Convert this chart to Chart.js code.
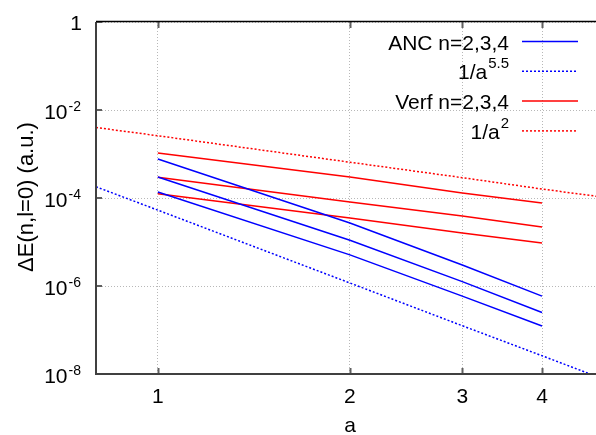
<!DOCTYPE html>
<html>
<head>
<meta charset="utf-8">
<script src="https://cdn.jsdelivr.net/npm/chart.js@4/dist/chart.umd.min.js"></script>
<style>
  body { margin: 0; background: #fff; }
</style>
</head>
<body>
<canvas id="energyChart" width="596" height="435"></canvas>
<script>
// values (log-log)
const aVals = [1, 2, 3, 4];
const anc2 = [7.7e-4, 2.7e-5, 3.0e-6, 5.9e-7];
const anc3 = [3.0e-4, 1.1e-5, 1.26e-6, 2.5e-7];
const anc4 = [1.37e-4, 5.1e-6, 5.9e-7, 1.23e-7];
const verf2 = [1.05e-3, 3.0e-4, 1.3e-4, 7.7e-5];
const verf3 = [2.97e-4, 8.1e-5, 3.9e-5, 2.2e-5];
const verf4 = [1.25e-4, 3.5e-5, 1.6e-5, 9.5e-6];

// guide lines
const guideA = [0.8, 1, 2, 3, 4, 4.9];
const guide55 = [1.8e-4, 5.3e-5, 1.17e-6, 1.25e-7, 2.6e-8, 8.5e-9];
const guide2 = [4.0e-3, 2.6e-3, 6.5e-4, 2.9e-4, 1.6e-4, 1.08e-4];

const xTicks = [1, 2, 3, 4];
const yTicks = [1e-8, 1e-6, 1e-4, 1e-2, 1];
const yTickExp = ['-8', '-6', '-4', '-2', ''];

const legendRows = [
  { text: 'ANC n=2,3,4', sup: '', color: '#0000ff', dash: [] },
  { text: '1/a', sup: '5.5', color: '#0000ff', dash: [2, 2] },
  { text: 'Verf n=2,3,4', sup: '', color: '#ff0000', dash: [] },
  { text: '1/a', sup: '2', color: '#ff0000', dash: [2, 2] }
];

const FONT = '"Liberation Sans", Arial, sans-serif';

function pts(xs, ys) {
  return xs.map((v, i) => ({ x: v, y: ys[i] }));
}

function series(label, xs, ys, color, dash) {
  return {
    label: label,
    data: pts(xs, ys),
    borderColor: color,
    borderWidth: 1.5,
    borderDash: dash,
    pointRadius: 0,
    tension: 0,
    fill: false
  };
}

// right-aligned text with an optional superscript
function supText(ctx, main, sup, right, base, size, supSize, raise) {
  ctx.font = size + 'px ' + FONT;
  const wMain = ctx.measureText(main).width;
  ctx.font = supSize + 'px ' + FONT;
  const wSup = sup ? ctx.measureText(sup).width + 1 : 0;
  ctx.textAlign = 'left';
  ctx.textBaseline = 'alphabetic';
  ctx.font = size + 'px ' + FONT;
  ctx.fillText(main, right - wSup - wMain, base);
  if (sup) {
    ctx.font = supSize + 'px ' + FONT;
    ctx.fillText(sup, right - wSup + 1, base - raise);
  }
}

const framePlugin = {
  id: 'frame',
  afterDraw(chart) {
    const { ctx, chartArea: area, scales: { x, y } } = chart;
    ctx.save();

    // inward tick marks
    ctx.strokeStyle = '#606060';
    ctx.lineWidth = 2;
    ctx.beginPath();
    xTicks.forEach(v => {
      const px = Math.round(x.getPixelForValue(v)) + 0.5;
      ctx.moveTo(px, area.bottom); ctx.lineTo(px, area.bottom - 6);
      ctx.moveTo(px, area.top); ctx.lineTo(px, area.top + 6);
    });
    yTicks.forEach(v => {
      const py = Math.round(y.getPixelForValue(v));
      ctx.moveTo(area.left, py); ctx.lineTo(area.left + 6, py);
    });
    ctx.stroke();

    // border
    ctx.strokeStyle = '#404040';
    ctx.lineWidth = 2;
    ctx.beginPath();
    ctx.moveTo(area.left, area.top);
    ctx.lineTo(area.left, area.bottom);
    ctx.lineTo(area.right, area.bottom);
    ctx.stroke();
    ctx.strokeStyle = '#000';
    ctx.lineWidth = 1.5;
    ctx.beginPath();
    ctx.moveTo(area.left, area.top - 0.5);
    ctx.lineTo(area.right, area.top - 0.5);
    ctx.stroke();

    ctx.fillStyle = '#000';

    // y tick labels
    yTicks.forEach((v, i) => {
      const py = y.getPixelForValue(v);
      if (yTickExp[i]) {
        supText(ctx, '10', yTickExp[i], 81, py + 9, 21, 14, 8);
      } else {
        supText(ctx, '1', '', 82, py + 8, 21, 14, 0);
      }
    });

    // x tick labels
    ctx.font = '21px ' + FONT;
    ctx.textAlign = 'center';
    ctx.textBaseline = 'alphabetic';
    xTicks.forEach(v => {
      ctx.fillText(String(v), x.getPixelForValue(v), 403);
    });

    // axis titles
    ctx.fillText('a', 350, 432);
    ctx.save();
    ctx.font = '22px ' + FONT;
    ctx.translate(33, 197);
    ctx.rotate(-Math.PI / 2);
    ctx.fillText('\u0394E(n,l=0) (a.u.)', 0, 0);
    ctx.restore();

    // legend
    legendRows.forEach((row, i) => {
      const ry = 41.5 + i * 29.8;
      ctx.fillStyle = '#000';
      supText(ctx, row.text, row.sup, 509, ry + 8, 21, 15, 11);
      ctx.strokeStyle = row.color;
      ctx.lineWidth = 1.5;
      ctx.setLineDash(row.dash);
      ctx.beginPath();
      ctx.moveTo(522, ry);
      ctx.lineTo(578, ry);
      ctx.stroke();
      ctx.setLineDash([]);
    });

    ctx.restore();
  }
};

const gridOpts = {
  color: '#b8b8b8',
  lineWidth: 1,
  drawTicks: false
};

new Chart(document.getElementById('energyChart'), {
  type: 'line',
  data: {
    datasets: [
      series('ANC n=2', aVals, anc2, '#0000ff', []),
      series('ANC n=3', aVals, anc3, '#0000ff', []),
      series('ANC n=4', aVals, anc4, '#0000ff', []),
      series('1/a^5.5', guideA, guide55, '#0000ff', [2, 2]),
      series('Verf n=2', aVals, verf2, '#ff0000', []),
      series('Verf n=3', aVals, verf3, '#ff0000', []),
      series('Verf n=4', aVals, verf4, '#ff0000', []),
      series('1/a^2', guideA, guide2, '#ff0000', [2, 2])
    ]
  },
  options: {
    responsive: false,
    maintainAspectRatio: false,
    animation: false,
    layout: { padding: { top: 22, right: 0, bottom: 0, left: 0 } },
    plugins: {
      legend: { display: false },
      tooltip: { enabled: false }
    },
    scales: {
      x: {
        type: 'logarithmic',
        min: 0.8,
        max: 4.86,
        afterBuildTicks: s => { s.ticks = xTicks.map(v => ({ value: v })); },
        afterFit: s => { s.height = 61; },
        ticks: { display: false },
        grid: gridOpts,
        border: { display: false, dash: [1, 2] }
      },
      y: {
        type: 'logarithmic',
        min: 1e-8,
        max: 1,
        afterBuildTicks: s => { s.ticks = yTicks.map(v => ({ value: v })); },
        afterFit: s => { s.width = 96; },
        ticks: { display: false },
        grid: gridOpts,
        border: { display: false, dash: [1, 2] }
      }
    }
  },
  plugins: [framePlugin]
});
</script>
</body>
</html>
